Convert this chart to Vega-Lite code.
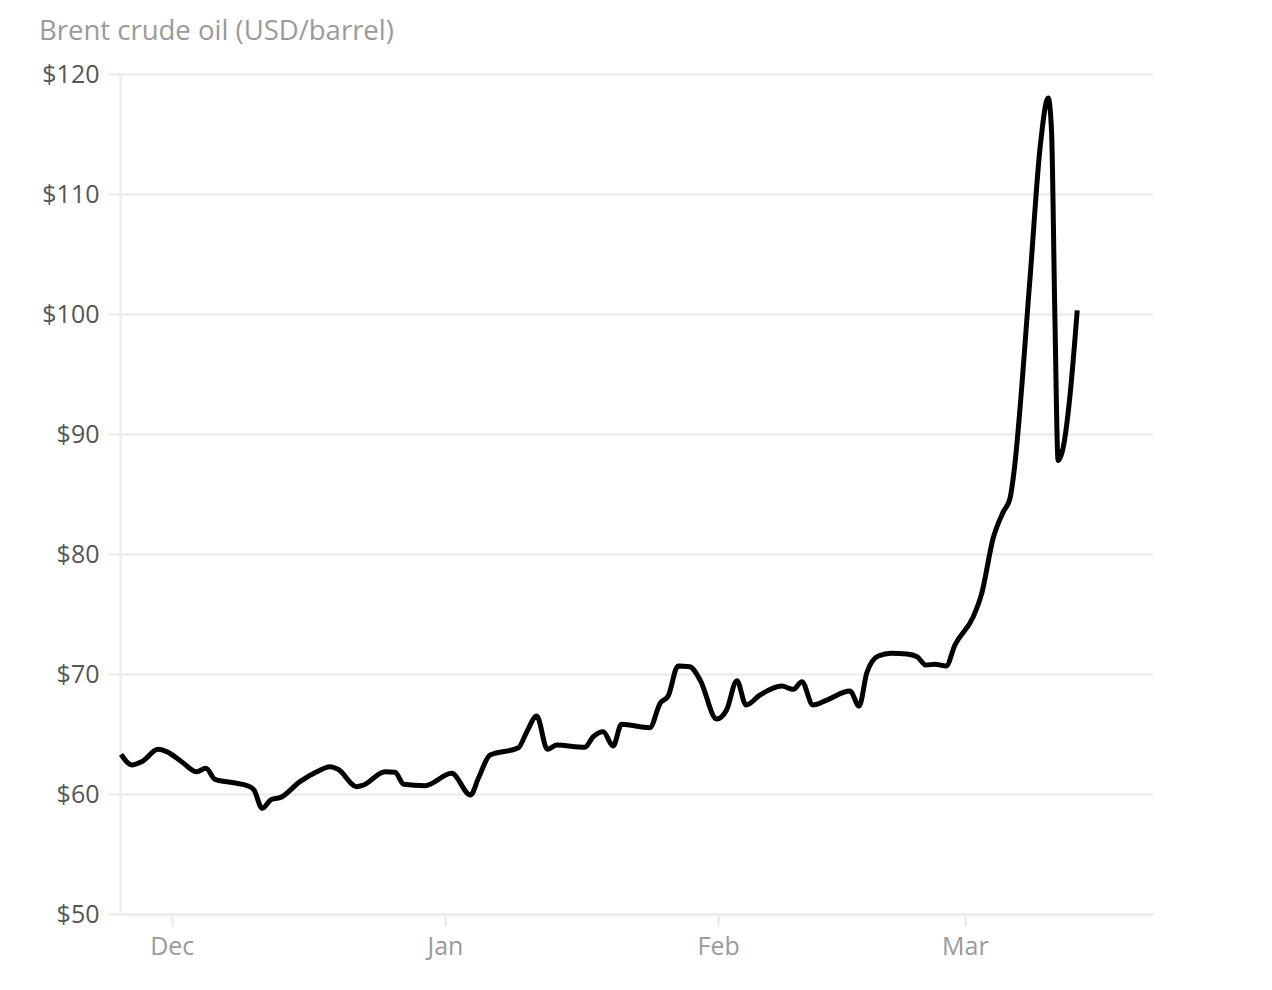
{
  "$schema": "https://vega.github.io/schema/vega-lite/v6.json",
  "width": 1033,
  "height": 840,
  "autosize": {"type": "none"},
  "padding": {"left": 120, "top": 74, "right": 119, "bottom": 76},
  "background": "white",
  "title": {
    "text": "Brent crude oil (USD/barrel)",
    "anchor": "start",
    "frame": "group",
    "dx": -81,
    "offset": 17,
    "font": "Open Sans",
    "fontSize": 27.5,
    "fontWeight": "normal",
    "color": "#9a9a9a"
  },
  "config": {"view": {"stroke": null}},
  "data": {
    "values": [
      {"date": "2025-11-25T06:00:00", "price": 63.3},
      {"date": "2025-11-26T11:00:00", "price": 62.42},
      {"date": "2025-11-27T14:00:00", "price": 62.69},
      {"date": "2025-11-29T11:00:00", "price": 63.72},
      {"date": "2025-11-30T10:00:00", "price": 63.53},
      {"date": "2025-12-02T03:00:00", "price": 62.69},
      {"date": "2025-12-03T20:00:00", "price": 61.86},
      {"date": "2025-12-04T21:00:00", "price": 62.14},
      {"date": "2025-12-05T22:00:00", "price": 61.22},
      {"date": "2025-12-08T00:00:00", "price": 60.94},
      {"date": "2025-12-09T16:00:00", "price": 60.67},
      {"date": "2025-12-10T08:00:00", "price": 60.33},
      {"date": "2025-12-11T06:00:00", "price": 58.81},
      {"date": "2025-12-12T08:00:00", "price": 59.56},
      {"date": "2025-12-13T07:00:00", "price": 59.69},
      {"date": "2025-12-15T13:00:00", "price": 61.03},
      {"date": "2025-12-17T11:00:00", "price": 61.86},
      {"date": "2025-12-18T23:00:00", "price": 62.28},
      {"date": "2025-12-19T21:00:00", "price": 62.06},
      {"date": "2025-12-22T00:00:00", "price": 60.61},
      {"date": "2025-12-22T18:00:00", "price": 60.75},
      {"date": "2025-12-25T05:00:00", "price": 61.86},
      {"date": "2025-12-26T08:00:00", "price": 61.81},
      {"date": "2025-12-27T08:00:00", "price": 60.81},
      {"date": "2025-12-29T18:00:00", "price": 60.69},
      {"date": "2026-01-01T18:00:00", "price": 61.72},
      {"date": "2026-01-03T22:00:00", "price": 59.92},
      {"date": "2026-01-04T19:00:00", "price": 61.31},
      {"date": "2026-01-06T03:00:00", "price": 63.25},
      {"date": "2026-01-09T08:00:00", "price": 63.85},
      {"date": "2026-01-10T07:00:00", "price": 65.19},
      {"date": "2026-01-11T10:00:00", "price": 66.5},
      {"date": "2026-01-12T15:00:00", "price": 63.72},
      {"date": "2026-01-13T16:00:00", "price": 64.08},
      {"date": "2026-01-16T21:00:00", "price": 63.89},
      {"date": "2026-01-17T20:00:00", "price": 64.78},
      {"date": "2026-01-18T23:00:00", "price": 65.19},
      {"date": "2026-01-20T02:00:00", "price": 64.0},
      {"date": "2026-01-21T01:00:00", "price": 65.81},
      {"date": "2026-01-24T06:00:00", "price": 65.53},
      {"date": "2026-01-25T10:00:00", "price": 67.56},
      {"date": "2026-01-26T08:00:00", "price": 68.17},
      {"date": "2026-01-27T11:00:00", "price": 70.67},
      {"date": "2026-01-28T19:00:00", "price": 70.61},
      {"date": "2026-01-29T23:00:00", "price": 69.5},
      {"date": "2026-01-31T20:00:00", "price": 66.25},
      {"date": "2026-02-01T23:00:00", "price": 67.0},
      {"date": "2026-02-03T03:00:00", "price": 69.44},
      {"date": "2026-02-04T04:00:00", "price": 67.42},
      {"date": "2026-02-05T18:00:00", "price": 68.25},
      {"date": "2026-02-08T05:00:00", "price": 69.0},
      {"date": "2026-02-09T13:00:00", "price": 68.72},
      {"date": "2026-02-10T12:00:00", "price": 69.36},
      {"date": "2026-02-11T18:00:00", "price": 67.42},
      {"date": "2026-02-13T08:00:00", "price": 67.83},
      {"date": "2026-02-15T23:00:00", "price": 68.58},
      {"date": "2026-02-17T00:00:00", "price": 67.33},
      {"date": "2026-02-17T21:00:00", "price": 70.1},
      {"date": "2026-02-19T04:00:00", "price": 71.5},
      {"date": "2026-02-20T16:00:00", "price": 71.73},
      {"date": "2026-02-22T10:00:00", "price": 71.67},
      {"date": "2026-02-23T14:00:00", "price": 71.44},
      {"date": "2026-02-24T14:00:00", "price": 70.75},
      {"date": "2026-02-25T15:00:00", "price": 70.81},
      {"date": "2026-02-26T21:00:00", "price": 70.67},
      {"date": "2026-02-27T21:00:00", "price": 72.42},
      {"date": "2026-03-01T23:00:00", "price": 74.78},
      {"date": "2026-03-02T22:00:00", "price": 76.72},
      {"date": "2026-03-04T05:00:00", "price": 81.31},
      {"date": "2026-03-05T09:00:00", "price": 83.53},
      {"date": "2026-03-06T03:00:00", "price": 84.64},
      {"date": "2026-03-06T12:00:00", "price": 86.4},
      {"date": "2026-03-08T09:00:00", "price": 102.8},
      {"date": "2026-03-09T13:00:00", "price": 113.9},
      {"date": "2026-03-10T11:00:00", "price": 118.0},
      {"date": "2026-03-10T20:00:00", "price": 115.3},
      {"date": "2026-03-11T05:00:00", "price": 100.1},
      {"date": "2026-03-11T14:00:00", "price": 87.8},
      {"date": "2026-03-12T04:00:00", "price": 88.9},
      {"date": "2026-03-12T22:00:00", "price": 93.1},
      {"date": "2026-03-13T18:00:00", "price": 100.3}
    ]
  },
  "mark": {
    "type": "line",
    "interpolate": "monotone",
    "color": "#000000",
    "strokeWidth": 5,
    "strokeCap": "butt",
    "strokeJoin": "round"
  },
  "encoding": {
    "x": {
      "field": "date",
      "type": "temporal",
      "scale": {
        "domain": [
          {"year": 2025, "month": 11, "date": 25, "hours": 3},
          {"year": 2026, "month": 3, "date": 22, "hours": 8, "minutes": 24}
        ]
      },
      "axis": {
        "title": null,
        "values": [
          {"year": 2025, "month": 12, "date": 1},
          {"year": 2026, "month": 1, "date": 1},
          {"year": 2026, "month": 2, "date": 1},
          {"year": 2026, "month": 3, "date": 1}
        ],
        "format": "%b",
        "grid": false,
        "domainColor": "#ececec",
        "domainWidth": 2.5,
        "tickColor": "#ececec",
        "tickWidth": 2.5,
        "tickSize": 12,
        "labelFont": "Open Sans",
        "labelFontSize": 25,
        "labelColor": "#9a9a9a",
        "labelPadding": 8
      }
    },
    "y": {
      "field": "price",
      "type": "quantitative",
      "scale": {"domain": [50, 120]},
      "axis": {
        "title": null,
        "values": [50, 60, 70, 80, 90, 100, 110, 120],
        "labelExpr": "'$' + datum.value",
        "grid": true,
        "gridColor": "#ececec",
        "gridWidth": 2.5,
        "domainColor": "#ececec",
        "domainWidth": 2.5,
        "tickColor": "#ececec",
        "tickWidth": 2.5,
        "tickSize": 13,
        "labelFont": "Open Sans",
        "labelFontSize": 25,
        "labelColor": "#555555",
        "labelPadding": 8
      }
    }
  }
}
